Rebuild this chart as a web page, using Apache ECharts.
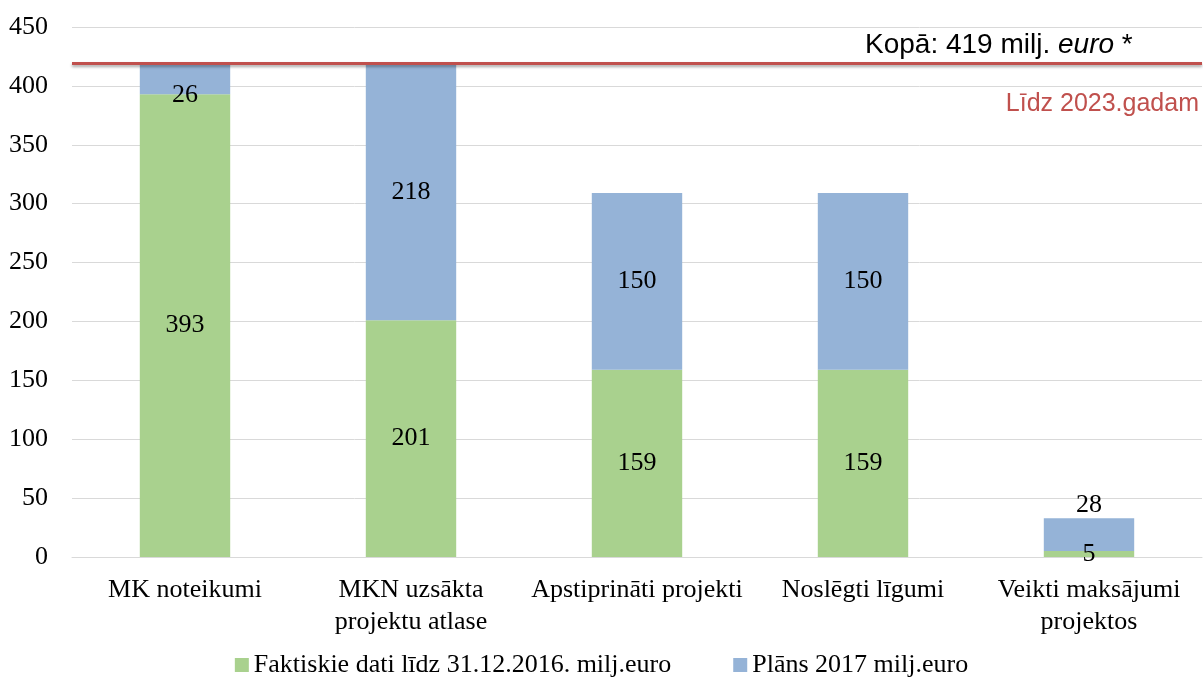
<!DOCTYPE html>
<html>
<head>
<meta charset="utf-8">
<script src="https://cdn.jsdelivr.net/npm/echarts@6/dist/echarts.min.js"></script>
<style>
  html, body { margin: 0; padding: 0; background: #fff; }
  #chart { width: 1203px; height: 679px; }
</style>
</head>
<body>
<div id="chart"></div>
<script>
// dati no attēla
var categories = ['MK noteikumi', 'MKN uzsākta\nprojektu atlase', 'Apstiprināti projekti', 'Noslēgti līgumi', 'Veikti maksājumi\nprojektos']
var faktiskie = [393, 201, 159, 159, 5]
var plans = [26, 218, 150, 150, 28]
var kopa = 419
var seriesNames = ['Faktiskie dati līdz 31.12.2016. milj.euro', 'Plāns 2017 milj.euro']

var serif = '"Liberation Serif", "DejaVu Serif", serif'
var sans = '"Liberation Sans Narrow", "Liberation Sans", sans-serif'

var chart = echarts.init(document.getElementById('chart'))

// zilajām etiķetēm katrai sava vieta
var plansData = plans.map(function (v, i) {
  var item = { value: v }
  if (i === 0) item.label = { offset: [0, 16] }
  if (i === 4) item.label = { position: 'top', distance: 0 }
  return item
})

chart.setOption({
  animation: false,
  grid: { left: 72, right: 1, top: 27, bottom: 122 },
  legend: {
    bottom: -4,
    left: 'center',
    itemWidth: 14,
    itemHeight: 14,
    itemGap: 62,
    icon: 'rect',
    textStyle: { fontFamily: serif, fontSize: 26, color: '#000' },
    data: seriesNames
  },
  xAxis: {
    type: 'category',
    data: categories,
    axisLine: { lineStyle: { color: '#d9d9d9' } },
    axisTick: { show: false },
    axisLabel: { fontFamily: serif, fontSize: 26, color: '#000', lineHeight: 32, margin: 17, interval: 0 }
  },
  yAxis: {
    type: 'value',
    min: 0,
    max: 450,
    interval: 50,
    axisLine: { show: false },
    axisTick: { show: false },
    splitLine: { lineStyle: { color: '#d9d9d9', width: 1 } },
    axisLabel: { fontFamily: serif, fontSize: 26, color: '#000', margin: 24 }
  },
  series: [
    {
      name: seriesNames[0],
      type: 'bar',
      stack: 'kopa',
      barWidth: '40%',
      itemStyle: { color: '#a9d18e' },
      label: { show: true, position: 'inside', fontFamily: serif, fontSize: 26, color: '#000' },
      data: faktiskie
    },
    {
      name: seriesNames[1],
      type: 'bar',
      stack: 'kopa',
      barWidth: '40%',
      itemStyle: { color: '#95b3d7' },
      label: { show: true, position: 'inside', fontFamily: serif, fontSize: 26, color: '#000' },
      data: plansData,
      markLine: {
        silent: true,
        symbol: 'none',
        lineStyle: { color: '#c0504d', width: 3, type: 'solid', shadowColor: 'rgba(0,0,0,0.35)', shadowBlur: 3, shadowOffsetY: 2 },
        label: { show: false },
        data: [{ yAxis: kopa }]
      }
    }
  ],
  graphic: [
    {
      type: 'text',
      left: 865,
      top: 31,
      style: {
        rich: {
          n: { fontFamily: sans, fontSize: 28, fill: '#000' },
          i: { fontFamily: sans, fontSize: 28, fontStyle: 'italic', fill: '#000' }
        },
        text: '{n|Kopā: ' + kopa + ' milj. }{i|euro}{n| *}'
      }
    },
    {
      type: 'text',
      right: 4,
      top: 92,
      style: { text: 'Līdz 2023.gadam', fontFamily: sans, fontSize: 25, fill: '#c0504d' }
    }
  ]
})
</script>
</body>
</html>
